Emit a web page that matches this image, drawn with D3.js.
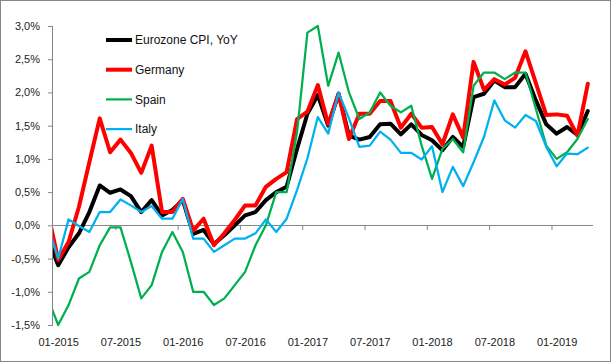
<!DOCTYPE html>
<html>
<head>
<meta charset="utf-8">
<script src="https://cdn.jsdelivr.net/npm/d3@7"></script>
<style>
  body { margin: 0; background: #fff; }
  svg { display: block; font-family: "Liberation Sans", Arial, sans-serif; }
  .axis text { fill: #222; font-size: 11px; }
  .axis path, .axis line { stroke: #868686; }
</style>
</head>
<body>
<div id="chart"></div>
<script>
// Monthly YoY inflation, Dec 2014 .. Apr 2019 (Dec 2014 sits left of the plot and gets clipped)
var firstMonth = new Date(2014, 11, 1);
var lastMonth = new Date(2019, 3, 1);

var eurozone = [-0.2,
  -0.60, -0.33, -0.12, 0.20, 0.60, 0.49, 0.54, 0.44, 0.20, 0.38, 0.15, 0.23,
  0.38, -0.13, -0.07, -0.28, -0.15, 0.00, 0.15, 0.20, 0.38, 0.50, 0.58, 1.15,
  1.68, 1.96, 1.50, 1.98, 1.35, 1.29, 1.33, 1.52, 1.53, 1.37, 1.52, 1.36,
  1.28, 1.13, 1.33, 1.18, 1.93, 1.98, 2.18, 2.08, 2.08, 2.28, 1.88, 1.52,
  1.38, 1.48, 1.36, 1.72];

var germany = [0.2,
  -0.52, -0.25, 0.28, 0.95, 1.61, 1.10, 1.29, 1.09, 0.79, 1.20, 0.20, 0.20,
  0.40, -0.08, 0.10, -0.30, -0.12, 0.08, 0.30, 0.30, 0.58, 0.70, 0.80, 1.60,
  1.71, 2.11, 1.52, 1.98, 1.30, 1.68, 1.68, 1.87, 1.87, 1.47, 1.68, 1.47,
  1.48, 1.22, 1.67, 1.32, 2.46, 2.04, 2.20, 2.12, 2.22, 2.62, 2.14, 1.66,
  1.67, 1.65, 1.35, 2.13];

var spain = [-1.1,
  -1.5, -1.2, -0.8, -0.7, -0.3, -0.03, -0.03, -0.55, -1.1, -0.9, -0.4, -0.1,
  -0.4, -1.0, -1.0, -1.2, -1.1, -0.9, -0.7, -0.3, 0.0, 0.5, 0.5, 1.4,
  2.9, 3.0, 2.1, 2.6, 2.0, 1.6, 1.7, 2.0, 1.8, 1.7, 1.8, 1.2,
  0.7, 1.15, 1.3, 1.1, 2.1, 2.3, 2.3, 2.2, 2.3, 2.3, 1.75, 1.2,
  1.0, 1.1, 1.3, 1.6];

var italy = [0.0,
  -0.50, 0.09, -0.01, -0.10, 0.20, 0.20, 0.39, 0.30, 0.20, 0.29, 0.10, 0.10,
  0.40, -0.20, -0.20, -0.40, -0.30, -0.20, -0.20, -0.12, 0.09, -0.10, 0.10, 0.53,
  1.01, 1.63, 1.38, 2.00, 1.61, 1.18, 1.20, 1.41, 1.29, 1.09, 1.09, 0.99,
  1.19, 0.50, 0.88, 0.59, 0.95, 1.33, 1.88, 1.58, 1.47, 1.66, 1.57, 1.18,
  0.89, 1.08, 1.07, 1.17];

var seriesNames = ["Eurozone CPI, YoY", "Germany", "Spain", "Italy"];
var seriesColors = ["#000000", "#ff0000", "#00b050", "#00b0f0"];
var seriesWidths = [4, 4, 2.25, 2.25];
var yTicks = [-1.5, -1.0, -0.5, 0.0, 0.5, 1.0, 1.5, 2.0, 2.5, 3.0];

var months = d3.timeMonth.range(firstMonth, d3.timeMonth.offset(lastMonth, 1));
var fmtMonth = d3.timeFormat("%m-%Y");
var allSeries = [eurozone, germany, spain, italy];

// Canvas
var width = 611;
var height = 362;
var plot = { left: 53, right: 593, top: 26, bottom: 325 };

var svg = d3.select("#chart")
  .append("svg")
  .attr("width", width)
  .attr("height", height);

// outer frame of the chart object
svg.append("rect")
  .attr("x", 0.5).attr("y", 0.5)
  .attr("width", width - 1).attr("height", height - 1)
  .attr("fill", "#fff")
  .attr("stroke", "#868686");

// Scales: Jan 2015 is index 0, each month gets an equal slot (category axis)
var nCats = months.length - 1;
var x = d3.scaleLinear()
  .domain([-0.5, nCats - 0.5])
  .range([plot.left, plot.right]);

var y = d3.scaleLinear()
  .domain([-1.5, 3.0])
  .range([plot.bottom, plot.top]);

var locale = d3.formatLocale({
  decimal: ",", thousands: ".", grouping: [3], currency: ["", " €"], minus: "-"
});
var fmtPct = locale.format(".1f");

// Y axis
svg.append("g")
  .attr("class", "axis")
  .attr("transform", "translate(" + plot.left + ",0)")
  .call(d3.axisLeft(y).tickValues(yTicks).tickSize(5).tickPadding(8)
    .tickFormat(function (d) { return fmtPct(d) + "%"; }))
  .call(function (g) { g.select(".domain").attr("d", "M-0.5," + y(-1.5) + "V" + y(3.0)); });

// X axis along zero: tick marks between categories every 6 months
var boundaryTicks = d3.range(5.5, nCats - 1, 6);
svg.append("g")
  .attr("class", "axis")
  .attr("transform", "translate(0," + Math.round(y(0)) + ")")
  .call(d3.axisBottom(x).tickValues(boundaryTicks).tickSize(5).tickFormat(""))
  .call(function (g) { g.select(".domain").attr("d", "M" + plot.left + ",0.5H" + plot.right); });

// X labels at the bottom, centred on their month
var labelIdx = d3.range(0, nCats, 6);
svg.append("g")
  .attr("class", "axis")
  .attr("transform", "translate(0," + (plot.bottom + 10) + ")")
  .call(d3.axisBottom(x).tickValues(labelIdx).tickSize(0)
    .tickFormat(function (i) { return fmtMonth(months[i + 1]); }))
  .call(function (g) { g.select(".domain").remove(); });

// Lines
svg.append("clipPath").attr("id", "plotClip")
  .append("rect")
  .attr("x", plot.left).attr("y", 0)
  .attr("width", plot.right - plot.left).attr("height", height);

var line = d3.line()
  .x(function (d, i) { return x(i - 1); })
  .y(function (d) { return y(d); });

svg.append("g")
  .attr("clip-path", "url(#plotClip)")
  .selectAll("path")
  .data(allSeries)
  .join("path")
  .attr("d", line)
  .attr("fill", "none")
  .attr("stroke", function (d, i) { return seriesColors[i]; })
  .attr("stroke-width", function (d, i) { return seriesWidths[i]; })
  .attr("stroke-linejoin", "round")
  .attr("stroke-linecap", "round");

// Legend
var legend = svg.append("g").attr("transform", "translate(106,40)");
var items = legend.selectAll("g")
  .data(seriesNames)
  .join("g")
  .attr("transform", function (d, i) { return "translate(0," + (i * 29.7) + ")"; });

items.append("line")
  .attr("x1", 0).attr("x2", 26)
  .attr("stroke", function (d, i) { return seriesColors[i]; })
  .attr("stroke-width", function (d, i) { return seriesWidths[i]; });

items.append("text")
  .attr("x", 29)
  .attr("dy", "0.35em")
  .attr("font-size", "12px")
  .attr("fill", "#111")
  .text(function (d) { return d; });
</script>
</body>
</html>
